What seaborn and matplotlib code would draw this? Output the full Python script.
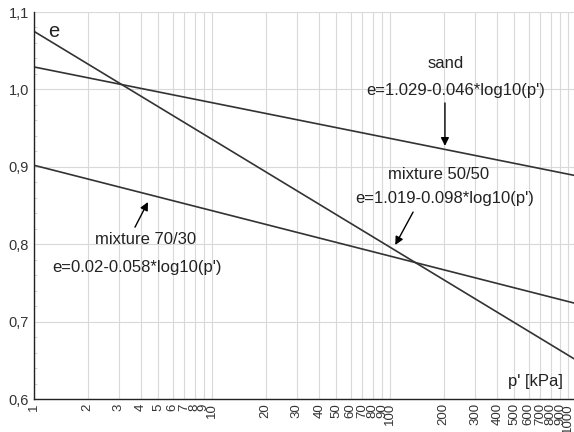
import numpy as np
import pandas as pd
import seaborn as sns
import matplotlib
matplotlib.use("Agg")
import matplotlib.pyplot as plt
from matplotlib.ticker import FixedLocator, FixedFormatter, AutoMinorLocator

# values (line end points at left and right edge)
p_ends = [1, 1080]
e_sand = [1.029, 0.889]
e_mix5050 = [1.075, 0.652]
e_mix7030 = [0.902, 0.724]

x_ticks = [1, 2, 3, 4, 5, 6, 7, 8, 9, 10, 20, 30, 40, 50, 60, 70, 80, 90,
           100, 200, 300, 400, 500, 600, 700, 800, 900, 1000]
y_ticks = [0.6, 0.7, 0.8, 0.9, 1.0, 1.1]
y_labels = ["0,6", "0,7", "0,8", "0,9", "1,0", "1,1"]

df = pd.DataFrame({
    "p": p_ends * 3,
    "e": e_sand + e_mix5050 + e_mix7030,
    "series": ["sand"] * 2 + ["mix5050"] * 2 + ["mix7030"] * 2,
})

sns.set_style("white")
plt.rcParams["font.family"] = ["Liberation Sans", "DejaVu Sans"]

fig = plt.figure(figsize=(5.74, 4.32), dpi=100)
ax = fig.add_axes([34 / 574, 1 - 399 / 432, 540 / 574, 387 / 432])

sns.lineplot(data=df, x="p", y="e", units="series", estimator=None,
             color="#333333", lw=1.2, ax=ax)

ax.set_xscale("log")
ax.set_xlim(1, 1080)
ax.set_ylim(0.6, 1.1)

ax.xaxis.set_major_locator(FixedLocator(x_ticks))
ax.xaxis.set_major_formatter(FixedFormatter([str(t) for t in x_ticks]))
ax.xaxis.set_minor_locator(FixedLocator([]))
ax.yaxis.set_major_locator(FixedLocator(y_ticks))
ax.yaxis.set_major_formatter(FixedFormatter(y_labels))
ax.yaxis.set_minor_locator(AutoMinorLocator(5))

ax.tick_params(axis="x", which="major", direction="in", length=3,
               labelrotation=90, labelsize=9.5, colors="#333333", pad=3)
ax.tick_params(axis="y", which="major", direction="in", length=3,
               labelsize=10.5, colors="#333333")
ax.tick_params(axis="y", which="minor", direction="in", length=2,
               color="#cccccc", left=True)
for lbl in ax.get_xticklabels() + ax.get_yticklabels():
    lbl.set_color("#333333")

ax.grid(True, which="major", color="#d9d9d9", lw=0.8)
ax.set_axisbelow(True)

for s in ["top", "right"]:
    ax.spines[s].set_visible(False)
for s in ["left", "bottom"]:
    ax.spines[s].set_color("#222222")
    ax.spines[s].set_linewidth(1.0)

ax.set_xlabel("")
ax.set_ylabel("")

ax.text(0.026, 0.975, "e", transform=ax.transAxes, fontsize=14.5,
        ha="left", va="top", color="#222222")
ax.text(0.928, 0.044, "p' [kPa]", transform=ax.transAxes, fontsize=12,
        ha="center", va="center", color="#222222")

txt = dict(transform=ax.transAxes, fontsize=12, ha="center", va="center",
           color="#222222")
arrow = dict(arrowstyle="-|>", color="black", lw=1, mutation_scale=12,
             shrinkA=0, shrinkB=0)

ax.text(0.763, 0.868, "sand", **txt)
ax.text(0.780, 0.798, "e=1.029-0.046*log10(p')", **txt)
ax.annotate("", xy=(0.761, 0.654), xytext=(0.761, 0.765),
            xycoords="axes fraction", arrowprops=arrow)

ax.text(0.750, 0.579, "mixture 50/50", **txt)
ax.text(0.761, 0.517, "e=1.019-0.098*log10(p')", **txt)
ax.annotate("", xy=(0.669, 0.398), xytext=(0.702, 0.483),
            xycoords="axes fraction", arrowprops=arrow)

ax.text(0.207, 0.411, "mixture 70/30", **txt)
ax.text(0.191, 0.341, "e=0.02-0.058*log10(p')", **txt)
ax.annotate("", xy=(0.211, 0.509), xytext=(0.187, 0.444),
            xycoords="axes fraction", arrowprops=arrow)

fig.savefig("out.png", dpi=100)
